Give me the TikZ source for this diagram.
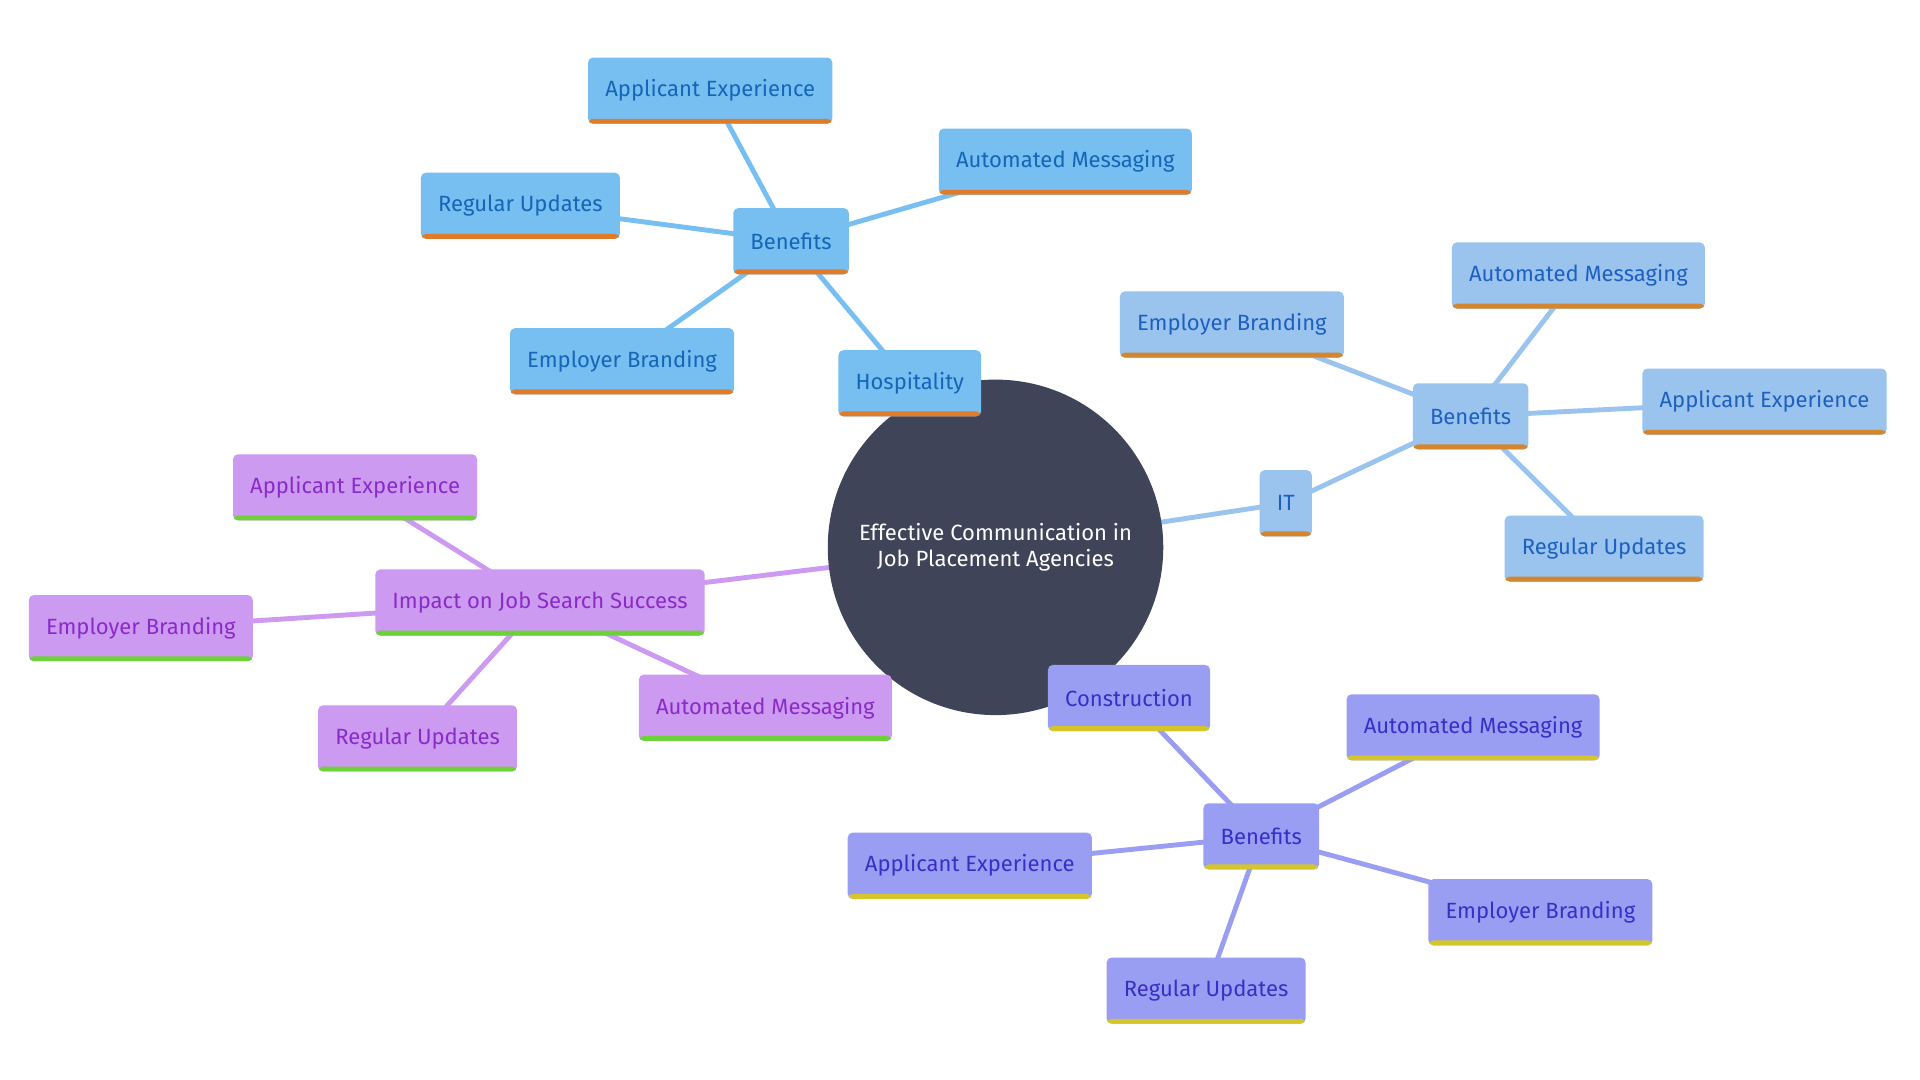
\documentclass[tikz,border=0pt]{standalone}
\usepackage{fontspec}
\setmainfont{Fira Sans}
\usetikzlibrary{backgrounds}
\definecolor{hub}{HTML}{404459}
\definecolor{hospF}{HTML}{77BFF0}\definecolor{hospT}{HTML}{1565B8}\definecolor{hospA}{HTML}{E07B2A}
\definecolor{itF}{HTML}{9AC3EE}\definecolor{itT}{HTML}{1E60C0}\definecolor{itA}{HTML}{D4862F}
\definecolor{impF}{HTML}{CC9AF0}\definecolor{impT}{HTML}{8A2BC8}\definecolor{impA}{HTML}{6DD13A}
\definecolor{conF}{HTML}{9A9EF2}\definecolor{conT}{HTML}{3A2EC8}\definecolor{conA}{HTML}{D4C62A}
\tikzset{
  box/.style={rectangle, rounded corners=4pt, inner xsep=14pt, minimum height=54pt,
    font=\fontsize{18}{20}\selectfont, fill=#1F, text=#1T,
    path picture={\fill[#1A] ([yshift=-0.5pt]path picture bounding box.south west) rectangle ([yshift=4pt]path picture bounding box.south east);}},
  link/.style={line width=4pt, #1F},
}
\begin{document}
\begin{tikzpicture}[x=1pt,y=-1pt]
  \useasboundingbox (0,0) rectangle (1568,882);
  % CENTRE
  \node[circle, fill=hub, minimum size=274pt, text=white, align=center,
        font=\fontsize{18}{21}\selectfont] (hub) at (813,447)
        {Effective Communication in\\Job Placement Agencies};

  % HOSPITALITY
  \node[box=hosp] (hosp)   at (743,313) {Hospitality};
  \node[box=hosp] (hospB)  at (646,197) {Benefits};
  \node[box=hosp] (hospAE) at (580,74)  {Applicant Experience};
  \node[box=hosp] (hospAM) at (870,132) {Automated Messaging};
  \node[box=hosp] (hospRU) at (425,168) {Regular Updates};
  \node[box=hosp] (hospEB) at (508,295) {Employer Branding};

  % IT
  \node[box=it] (it)   at (1050,411) {IT};
  \node[box=it] (itB)  at (1201,340) {Benefits};
  \node[box=it] (itEB) at (1006,265) {Employer Branding};
  \node[box=it] (itAM) at (1289,225) {Automated Messaging};
  \node[box=it] (itAE) at (1441,328) {Applicant Experience};
  \node[box=it] (itRU) at (1310,448) {Regular Updates};

  % IMPACT
  \node[box=imp] (imp)   at (441,492) {Impact on Job Search Success};
  \node[box=imp] (impAE) at (290,398) {Applicant Experience};
  \node[box=imp] (impEB) at (115,513) {Employer Branding};
  \node[box=imp] (impRU) at (341,603) {Regular Updates};
  \node[box=imp] (impAM) at (625,578) {Automated Messaging};

  % CONSTRUCTION
  \node[box=con] (con)   at (922,570)  {Construction};
  \node[box=con] (conB)  at (1030,683) {Benefits};
  \node[box=con] (conAM) at (1203,594) {Automated Messaging};
  \node[box=con] (conAE) at (792,707)  {Applicant Experience};
  \node[box=con] (conEB) at (1258,745) {Employer Branding};
  \node[box=con] (conRU) at (985,809)  {Regular Updates};

  % LINKS
  \begin{scope}[on background layer]
    \draw[link=hosp] (hub.center) -- (hosp.center) -- (hospB.center);
    \foreach \n in {hospAE,hospAM,hospRU,hospEB} \draw[link=hosp] (hospB.center) -- (\n.center);
    \draw[link=it] (hub.center) -- (it.center) -- (itB.center);
    \foreach \n in {itEB,itAM,itAE,itRU} \draw[link=it] (itB.center) -- (\n.center);
    \draw[link=imp] (hub.center) -- (imp.center);
    \foreach \n in {impAE,impEB,impRU,impAM} \draw[link=imp] (imp.center) -- (\n.center);
    \draw[link=con] (hub.center) -- (con.center) -- (conB.center);
    \foreach \n in {conAM,conAE,conEB,conRU} \draw[link=con] (conB.center) -- (\n.center);
  \end{scope}
\end{tikzpicture}
\end{document}
